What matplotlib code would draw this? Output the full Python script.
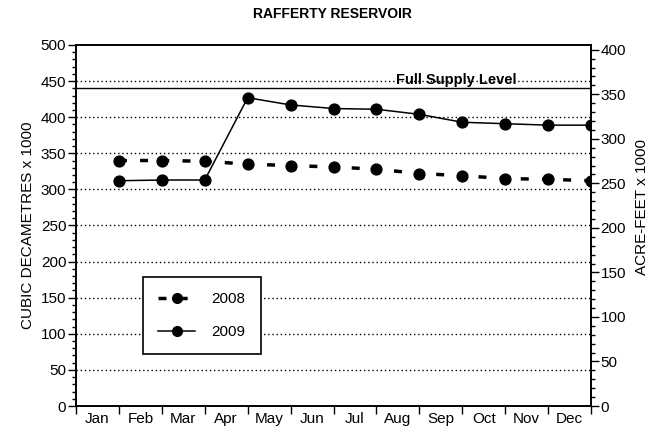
import matplotlib
matplotlib.use("Agg")
import matplotlib.pyplot as plt
from matplotlib.ticker import MultipleLocator, FixedLocator, NullFormatter
from matplotlib.lines import Line2D

plt.rcParams['font.family'] = ['Liberation Sans', 'DejaVu Sans']

months = ["Jan", "Feb", "Mar", "Apr", "May", "Jun", "Jul", "Aug", "Sep", "Oct", "Nov", "Dec"]
storage_2008 = [340, 340, 339, 335, 333, 331, 328, 322, 319, 315, 314, 312]
storage_2009 = [312, 313, 313, 427, 417, 412, 411, 404, 393, 391, 389, 389]
full_supply_level = 440
title = "RAFFERTY RESERVOIR"
dam3_per_acft = 1.2335

fig = plt.figure(figsize=(6.56, 4.44), dpi=100)
ax = fig.add_axes([76/656, 38/444, 515/656, 361/444])

x = list(range(1, len(months) + 1))

ax.set_xlim(0, 12)
ax.set_ylim(0, 500)

ms = 7.8

# grid lines
for yv in range(50, 500, 50):
    ax.axhline(yv, color='black', lw=1.0, ls=(0, (1, 2)), zorder=1)
ax.axhline(full_supply_level, color='black', lw=1.0, zorder=2)
ax.text(8.85, full_supply_level + 2, "Full Supply Level", ha='center', va='bottom',
        fontsize=10.5, fontweight='bold')

l08, = ax.plot(x, storage_2008, color='black', lw=2.5, marker='o', markersize=ms,
               zorder=3)
l08.set_dashes((2.3, 3.8))
l09, = ax.plot(x, storage_2009, color='black', lw=1.1, marker='o', markersize=ms,
               zorder=3)

# x axis: ticks at month boundaries, labels centred between
ax.xaxis.set_major_locator(FixedLocator(range(0, 13)))
ax.xaxis.set_major_formatter(NullFormatter())
ax.xaxis.set_minor_locator(FixedLocator([i + 0.5 for i in range(12)]))
ax.set_xticklabels(months, minor=True)
ax.tick_params(axis='x', which='major', direction='out', length=6, width=1)
ax.tick_params(axis='x', which='minor', length=0, labelsize=11, pad=4)

ax.yaxis.set_major_locator(MultipleLocator(50))
ax.yaxis.set_minor_locator(MultipleLocator(10))
ax.tick_params(axis='y', which='major', direction='out', length=6, width=1, labelsize=11, pad=1)
ax.tick_params(axis='y', which='minor', direction='out', length=3, width=1)
ax.set_ylabel("CUBIC DECAMETRES x 1000", fontsize=11, labelpad=4)

for s in ax.spines.values():
    s.set_linewidth(1.2)

ax2 = ax.twinx()
ax2.set_ylim(0, 500 / dam3_per_acft)
ax2.yaxis.set_major_locator(MultipleLocator(50))
ax2.yaxis.set_minor_locator(MultipleLocator(10))
ax2.tick_params(axis='y', which='major', direction='out', length=6, width=1, labelsize=11, pad=1)
ax2.tick_params(axis='y', which='minor', direction='out', length=3, width=1)
ax2.set_ylabel("ACRE-FEET x 1000", fontsize=11, labelpad=2)
ax2.yaxis.set_label_coords(1.085, 0.55)
for s in ax2.spines.values():
    s.set_linewidth(1.2)

h08 = Line2D([], [], color='black', lw=2.5, marker='o', markersize=7)
h08.set_dashes((2.3, 3.8))
h09 = Line2D([], [], color='black', lw=1.1, marker='o', markersize=7)
leg = ax.legend([h08, h09], ["2008", "2009"], loc='lower left',
                bbox_to_anchor=(0.13, 0.143), fontsize=11, frameon=True,
                fancybox=False, edgecolor='black', framealpha=1,
                borderpad=1.0, labelspacing=1.25, handlelength=2.4, handletextpad=1.1,
                borderaxespad=0)
leg.get_frame().set_linewidth(1.2)

fig.suptitle(title, x=0.507, y=0.985, fontsize=10, fontweight='bold')

fig.savefig("out.png", dpi=100)
